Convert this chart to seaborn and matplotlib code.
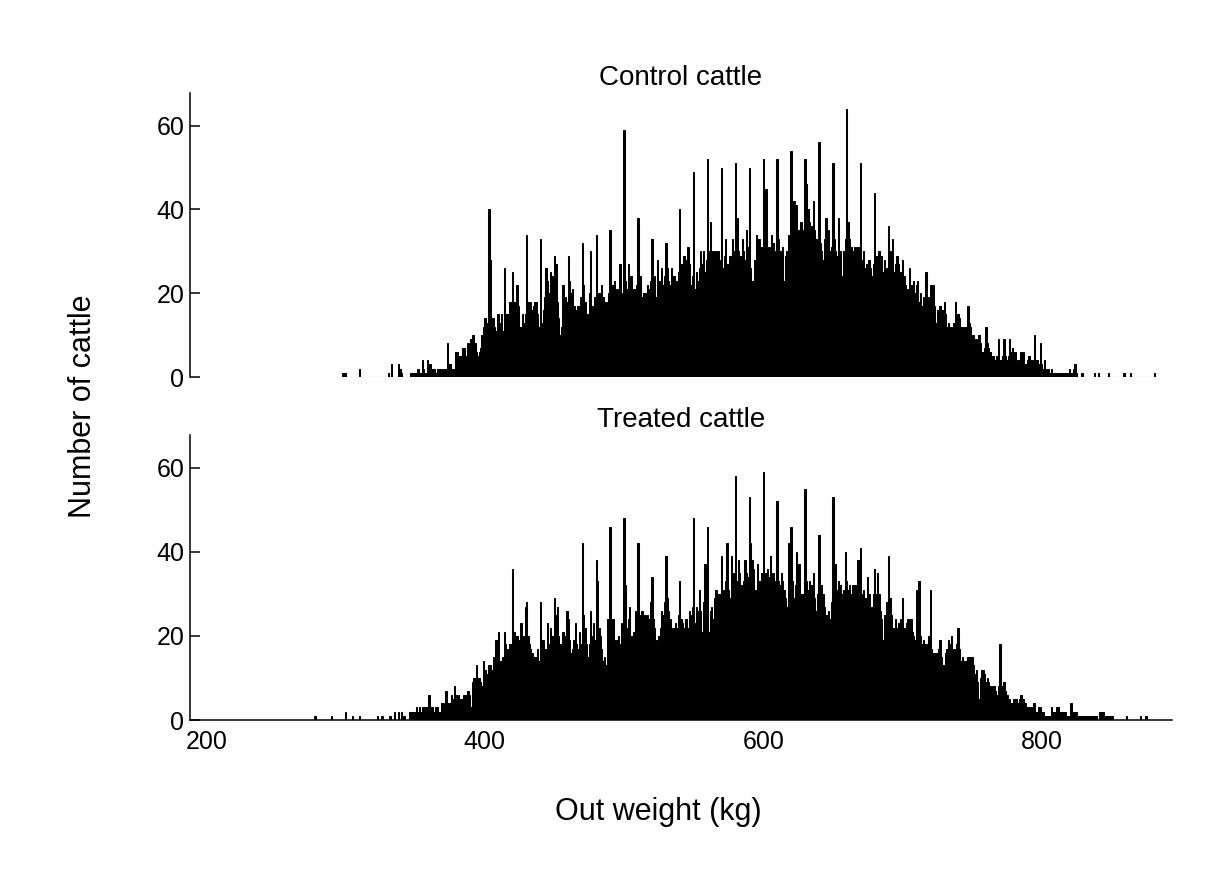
import numpy as np
import pandas as pd
import matplotlib
matplotlib.use("Agg")
import matplotlib.pyplot as plt
import seaborn as sns

# ---------------- data: number of cattle per 1-kg out-weight bin ----------------
# Control cattle, one list per 100 kg (index 0 = first kg of the block)
ctrl_200 = [0]*98 + [1, 1]
ctrl_300 = [1,0,0,0,0,0,0,0,0,0,
            2,0,0,0,0,0,0,0,0,0,
            0,0,0,0,0,0,0,0,0,0,
            0,1,0,3,0,0,0,0,3,2,
            1,0,0,0,0,0,0,1,1,1,
            1,1,2,1,1,4,2,1,1,4,
            3,3,2,2,2,1,2,2,2,1,
            2,2,2,8,3,3,2,2,2,6,
            6,5,3,5,7,7,5,5,8,7,
            9,10,10,8,6,5,6,7,10,12]
ctrl_400 = [14,13,9,40,28,14,14,12,11,15,
            15,13,15,11,26,13,15,15,18,14,
            25,18,16,22,17,12,12,15,13,15,
            34,18,15,18,16,17,18,18,15,12,
            33,13,16,19,26,23,20,25,23,24,
            29,27,18,14,10,12,22,16,19,18,
            29,23,20,21,17,14,16,17,15,19,
            32,22,18,15,15,20,30,17,13,19,
            34,17,20,18,22,19,17,18,16,20,
            35,19,22,23,20,21,18,27,16,20]
ctrl_500 = [59,23,21,27,22,24,17,21,20,22,
            38,21,24,19,20,20,19,22,21,23,
            33,22,24,19,28,23,20,26,22,24,
            32,26,23,22,26,21,24,22,23,25,
            40,27,24,29,26,28,31,27,22,24,
            49,21,25,23,26,30,27,30,25,28,
            52,30,37,28,30,27,30,26,30,28,
            50,26,29,33,27,25,29,27,33,30,
            51,38,30,27,29,33,30,28,35,31,
            50,26,23,23,28,34,30,33,27,31]
ctrl_600 = [52,33,45,28,31,30,34,32,27,30,
            52,33,30,28,31,23,29,30,34,33,
            54,36,42,34,41,35,31,37,33,35,
            52,46,40,37,33,36,42,35,33,31,
            56,32,30,28,33,38,34,35,30,31,
            51,33,30,29,38,30,24,15,30,33,
            64,37,33,31,29,30,31,28,31,30,
            51,28,30,26,27,26,28,26,24,27,
            44,29,27,30,26,29,25,28,24,26,
            36,30,27,33,25,27,29,27,23,25]
ctrl_700 = [28,24,22,20,21,26,22,20,23,20,
            22,23,18,20,17,19,18,25,14,19,
            22,18,22,17,13,16,15,17,14,16,
            18,15,12,13,12,12,11,13,18,15,
            15,14,12,12,11,12,10,17,13,12,
            10,10,9,8,9,10,8,6,6,7,
            12,8,7,6,5,5,4,4,5,9,
            4,4,5,9,5,4,5,9,6,7,
            6,6,3,4,3,6,5,6,3,3,
            4,5,4,4,3,10,4,4,3,8]
ctrl_800 = [3,2,4,2,1,2,1,2,1,1,
            1,1,1,1,1,1,1,1,1,1,
            2,1,1,2,3,1,0,0,0,1,
            0,0,0,0,0,0,0,0,1,0,
            0,1,0,0,0,0,0,0,1,0,
            0,0,0,0,0,0,0,0,0,1,
            0,0,0,0,1,0,0,0,0,0,
            0,0,0,0,0,0,0,0,0,0,
            0,1,0,0,0,0,0,0,0,0,
            0,0,0,0,0,0,0,0,0,0]

# Treated cattle
trt_200 = [0]*78 + [1] + [0]*11 + [1] + [0]*9
trt_300 = [2,0,0,0,0,1,0,0,0,0,
           1,0,0,0,0,0,0,0,0,0,
           0,0,0,1,0,0,1,0,0,0,
           0,0,1,0,0,2,0,0,2,0,
           2,0,1,0,0,0,2,2,2,2,
           2,3,2,3,2,3,3,3,3,2,
           6,3,3,2,2,3,3,2,2,4,
           4,4,7,4,4,4,6,5,8,5,
           6,6,5,5,5,6,5,6,7,6,
           3,9,10,10,13,10,10,9,8,14]
trt_400 = [12,7,11,13,13,12,15,14,19,17,
           21,14,13,15,21,18,17,15,18,16,
           36,21,20,20,17,19,23,16,20,27,
           28,20,18,17,16,15,15,15,17,14,
           28,19,19,15,17,23,18,22,20,20,
           29,25,27,20,18,16,21,18,20,26,
           24,19,16,17,19,23,18,17,21,18,
           42,25,22,18,15,18,26,20,23,19,
           38,33,22,20,17,14,15,13,24,20,
           46,22,24,19,17,19,20,18,23,22]
trt_500 = [48,32,22,24,27,20,16,21,26,22,
           42,25,22,26,24,25,22,25,24,28,
           34,24,22,19,17,20,22,26,25,28,
           39,29,26,24,22,21,22,23,22,25,
           33,24,23,22,24,24,22,26,25,27,
           48,23,27,26,31,26,21,28,37,30,
           46,21,26,27,24,29,31,28,30,30,
           39,31,30,33,42,31,29,39,33,35,
           58,33,38,35,32,28,33,38,35,34,
           53,42,38,36,31,28,37,33,33,35]
trt_600 = [59,34,35,36,34,39,32,35,33,31,
           52,33,32,35,33,31,29,27,42,36,
           46,33,29,32,40,37,37,30,26,30,
           55,33,31,33,30,32,35,29,26,30,
           44,30,32,30,27,25,25,26,24,28,
           53,33,37,31,33,32,30,12,31,40,
           33,31,32,30,32,31,32,30,38,33,
           41,30,31,29,28,34,30,23,27,30,
           36,30,35,30,26,24,19,25,24,28,
           39,29,25,17,22,24,22,23,21,24]
trt_700 = [29,22,21,23,24,22,24,21,20,19,
           31,25,33,20,18,19,17,18,16,20,
           31,17,16,15,16,15,17,19,15,13,
           10,16,17,19,18,20,15,17,16,18,
           22,17,14,15,14,14,13,15,15,14,
           15,13,11,12,9,5,10,12,12,11,
           9,10,9,8,7,8,8,7,6,8,
           18,6,8,9,7,6,5,5,4,4,
           5,5,5,4,5,6,5,5,4,3,
           3,3,3,3,4,4,2,2,3,3]
trt_800 = [2,2,1,1,0,1,1,3,2,2,
           2,3,3,2,2,2,2,2,1,1,
           1,4,2,1,2,2,1,1,1,1,
           1,1,1,1,1,1,1,1,1,1,
           0,0,2,2,2,1,1,1,1,1,
           1,1,0,0,0,0,0,0,0,0,
           0,1,0,0,0,0,0,0,0,0,
           0,1,0,0,0,1,0,0,0,0,
           0,0,0,0,0,0,0,0,0,0,
           0,0,0,0,0,0,0,0,0,0]

blocks_start = [200, 300, 400, 500, 600, 700, 800]
ctrl_blocks = [ctrl_200, ctrl_300, ctrl_400, ctrl_500, ctrl_600, ctrl_700, ctrl_800]
trt_blocks = [trt_200, trt_300, trt_400, trt_500, trt_600, trt_700, trt_800]

panel_titles = ["Control cattle", "Treated cattle"]
y_ticks = [0, 20, 40, 60]
x_ticks = [200, 400, 600, 800]
x_label = "Out weight (kg)"
y_label = "Number of cattle"


def to_frame(blocks):
    kg, n = [], []
    for s, b in zip(blocks_start, blocks):
        kg.extend(range(s, s + len(b)))
        n.extend(b)
    df = pd.DataFrame({"kg": kg, "n": n})
    return df[df["n"] > 0]


df_ctrl = to_frame(ctrl_blocks)
df_trt = to_frame(trt_blocks)

# ---------------- figure ----------------
sns.set_theme(style="white")
plt.rcParams["font.family"] = ["Liberation Sans", "DejaVu Sans"]
plt.rcParams["text.color"] = "black"

W, H = 1207, 884
fig = plt.figure(figsize=(W / 100, H / 100), dpi=100)
left, right = 190 / W, 1172 / W
ax1 = fig.add_axes([left, 1 - 377 / H, right - left, (377 - 93) / H])
ax2 = fig.add_axes([left, 1 - 720 / H, right - left, (720 - 435) / H])

for ax, df, title in [(ax1, df_ctrl, panel_titles[0]), (ax2, df_trt, panel_titles[1])]:
    sns.histplot(data=df, x="kg", weights="n", discrete=True, ax=ax,
                 color="black", edgecolor="black", linewidth=0.75, alpha=1.0,
                 element="bars", fill=True)
    ax.set_xlim(188.2, 893.6)
    ax.set_ylim(0, 67.8)
    ax.set_yticks(y_ticks)
    ax.set_xlabel("")
    ax.set_ylabel("")
    ax.set_title(title, fontsize=20, pad=6, color="black")
    for sp in ["top", "right"]:
        ax.spines[sp].set_visible(False)
    ax.spines["left"].set_linewidth(1.1)
    ax.spines["left"].set_color("black")
    ax.tick_params(axis="y", direction="in", length=7.5, width=1.1,
                   labelsize=18, colors="black", left=True, pad=4)
    ax.grid(False)

ax1.spines["bottom"].set_visible(False)
ax1.tick_params(axis="x", bottom=False, labelbottom=False)

ax2.spines["bottom"].set_linewidth(1.1)
ax2.spines["bottom"].set_color("black")
ax2.set_xticks(x_ticks)
ax2.tick_params(axis="x", bottom=True, length=0, labelsize=18, pad=7, colors="black")

fig.text(658 / W, 1 - 812 / H, x_label, ha="center", va="center", fontsize=22, color="black")
fig.text(83 / W, 1 - 406 / H, y_label, ha="center", va="center", rotation=90,
         fontsize=22, color="black")

fig.savefig("out.png", dpi=100, facecolor="white")
